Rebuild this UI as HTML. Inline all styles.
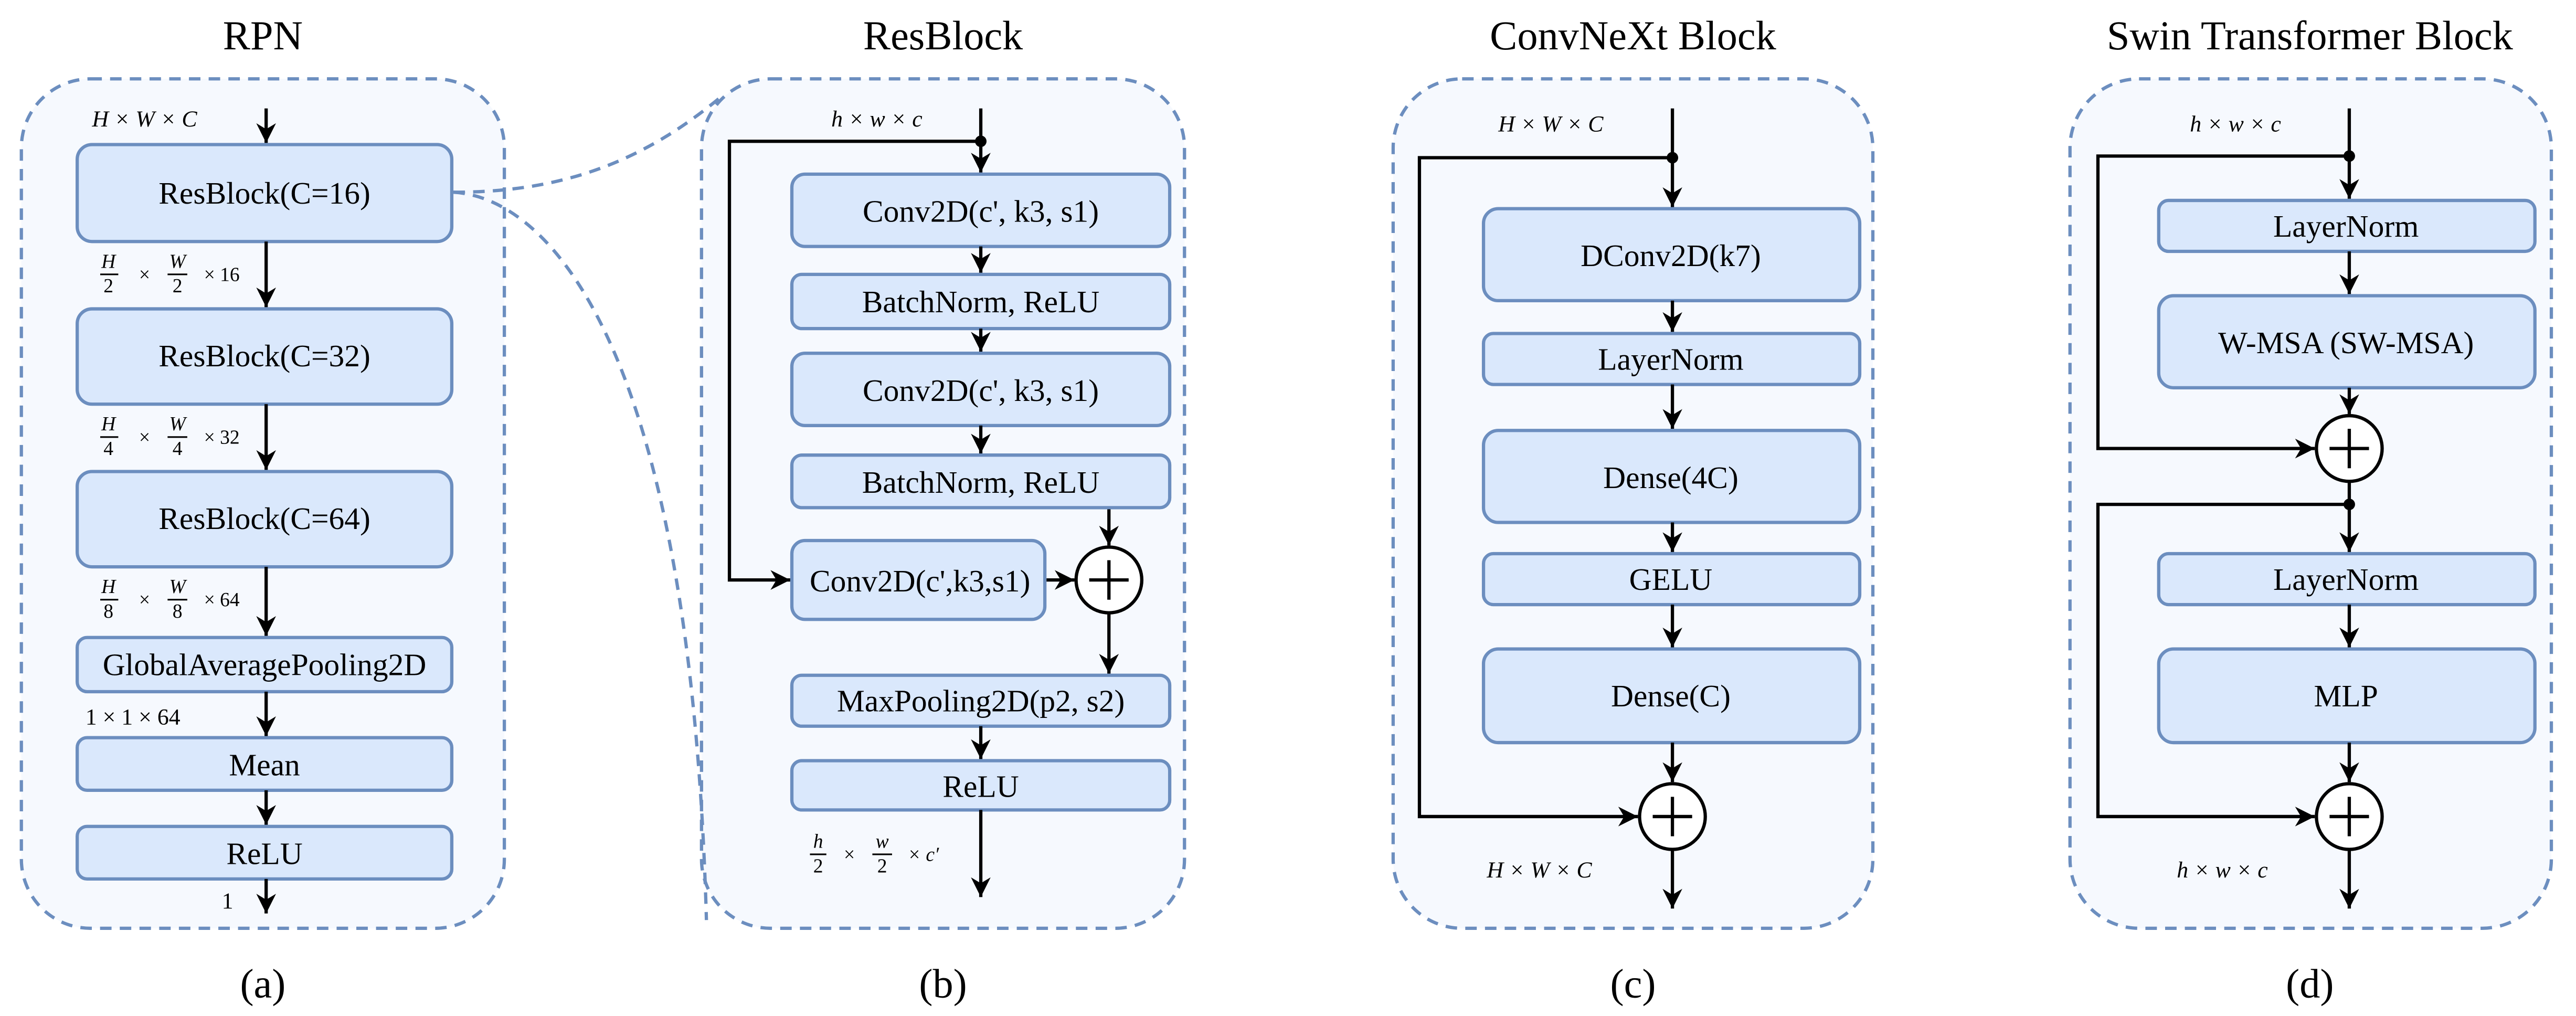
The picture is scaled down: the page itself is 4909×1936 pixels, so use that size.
<!DOCTYPE html>
<html><head><meta charset="utf-8"><style>
html,body{margin:0;padding:0;background:#fff;}
svg{display:block;font-family:"Liberation Serif","DejaVu Serif",serif;}
svg text{font-family:"Liberation Serif","DejaVu Serif",serif;fill:#000;}
.b{fill:#dae8fc;stroke:#6c8ebf;stroke-width:2;}
.p{fill:#f6f9fe;stroke:#6c8ebf;stroke-width:2;stroke-dasharray:7 5;}
.a{stroke:#000;stroke-width:2;fill:none;}
.t{font-size:19px;text-anchor:middle;}
.m{font-size:14px;font-style:italic;}
.h{font-size:25px;text-anchor:middle;}
.f{font-size:12px;font-style:italic;text-anchor:middle;}
</style></head><body>
<svg width="4909" height="1936" viewBox="0 0 1568 618.4" preserveAspectRatio="none" xmlns="http://www.w3.org/2000/svg" font-family="Liberation Serif, serif">
<defs><marker id="ar" viewBox="0 0 10 10" refX="10" refY="5" markerWidth="6" markerHeight="6" orient="auto-start-reverse"><path d="M0,0 L10,5 L0,10 L3,5 z" fill="#000"/></marker></defs>
<text class="h" x="160" y="30" font-family="Liberation Serif, serif">RPN</text>
<text class="h" x="574" y="30" font-family="Liberation Serif, serif">ResBlock</text>
<text class="h" x="994" y="30" font-family="Liberation Serif, serif">ConvNeXt Block</text>
<text class="h" x="1406" y="30" font-family="Liberation Serif, serif">Swin Transformer Block</text>
<text class="h" x="160" y="607" font-family="Liberation Serif, serif">(a)</text>
<text class="h" x="574" y="607" font-family="Liberation Serif, serif">(b)</text>
<text class="h" x="994" y="607" font-family="Liberation Serif, serif">(c)</text>
<text class="h" x="1406" y="607" font-family="Liberation Serif, serif">(d)</text>
<rect class="p" x="13" y="48" width="294" height="517" rx="42"/>
<rect class="p" x="427" y="48" width="294" height="517" rx="42"/>
<rect class="p" x="848" y="48" width="292" height="517" rx="42"/>
<rect class="p" x="1260" y="48" width="293" height="517" rx="42"/>
<path d="M276,117 C340,117 390,100 440,58" fill="none" stroke="#6c8ebf" stroke-width="2" stroke-dasharray="7 5"/>
<path d="M276,117 C330,120 420,200 430,560" fill="none" stroke="#6c8ebf" stroke-width="2" stroke-dasharray="7 5"/>
<g font-family="Liberation Serif, serif">
<!-- panel a -->
<text class="m" x="56" y="77">H × W × C</text>
<line class="a" x1="162" y1="66" x2="162" y2="87" marker-end="url(#ar)"/>
<rect class="b" x="47" y="88" width="228" height="59" rx="9"/><text class="t" x="161" y="124">ResBlock(C=16)</text>
<line class="a" x1="162" y1="147" x2="162" y2="187" marker-end="url(#ar)"/>
<text class="f" x="66" y="163">H</text><line x1="61" y1="167" x2="72" y2="167" stroke="#000"/><text class="f" x="66" y="178" style="font-style:normal">2</text>
<text class="f" x="88" y="171" style="font-style:normal">×</text>
<text class="f" x="108" y="163">W</text><line x1="102" y1="167" x2="114" y2="167" stroke="#000"/><text class="f" x="108" y="178" style="font-style:normal">2</text>
<text class="f" x="135" y="171" style="font-style:normal">× 16</text>
<rect class="b" x="47" y="188" width="228" height="58" rx="9"/><text class="t" x="161" y="223">ResBlock(C=32)</text>
<line class="a" x1="162" y1="246" x2="162" y2="286" marker-end="url(#ar)"/>
<text class="f" x="66" y="262">H</text><line x1="61" y1="266" x2="72" y2="266" stroke="#000"/><text class="f" x="66" y="277" style="font-style:normal">4</text>
<text class="f" x="88" y="270" style="font-style:normal">×</text>
<text class="f" x="108" y="262">W</text><line x1="102" y1="266" x2="114" y2="266" stroke="#000"/><text class="f" x="108" y="277" style="font-style:normal">4</text>
<text class="f" x="135" y="270" style="font-style:normal">× 32</text>
<rect class="b" x="47" y="287" width="228" height="58" rx="9"/><text class="t" x="161" y="322">ResBlock(C=64)</text>
<line class="a" x1="162" y1="345" x2="162" y2="387" marker-end="url(#ar)"/>
<text class="f" x="66" y="361">H</text><line x1="61" y1="365" x2="72" y2="365" stroke="#000"/><text class="f" x="66" y="376" style="font-style:normal">8</text>
<text class="f" x="88" y="369" style="font-style:normal">×</text>
<text class="f" x="108" y="361">W</text><line x1="102" y1="365" x2="114" y2="365" stroke="#000"/><text class="f" x="108" y="376" style="font-style:normal">8</text>
<text class="f" x="135" y="369" style="font-style:normal">× 64</text>
<rect class="b" x="47" y="388" width="228" height="33" rx="6"/><text class="t" x="161" y="411">GlobalAveragePooling2D</text>
<line class="a" x1="162" y1="421" x2="162" y2="448" marker-end="url(#ar)"/>
<text class="m" x="52" y="441" style="font-style:normal">1 × 1 × 64</text>
<rect class="b" x="47" y="449" width="228" height="32" rx="6"/><text class="t" x="161" y="472">Mean</text>
<line class="a" x1="162" y1="481" x2="162" y2="502" marker-end="url(#ar)"/>
<rect class="b" x="47" y="503" width="228" height="32" rx="6"/><text class="t" x="161" y="526">ReLU</text>
<line class="a" x1="162" y1="535" x2="162" y2="556" marker-end="url(#ar)"/>
<text class="m" x="135" y="553" style="font-style:normal">1</text>
<!-- panel b -->
<text class="m" x="506" y="77">h × w × c</text>
<line class="a" x1="597" y1="66" x2="597" y2="105" marker-end="url(#ar)"/>
<circle cx="597" cy="86" r="3.5" fill="#000"/>
<polyline class="a" points="597,86 444,86 444,353 481,353" marker-end="url(#ar)"/>
<rect class="b" x="482" y="106" width="230" height="44" rx="8"/><text class="t" x="597" y="135">Conv2D(c', k3, s1)</text>
<line class="a" x1="597" y1="150" x2="597" y2="166" marker-end="url(#ar)"/>
<rect class="b" x="482" y="167" width="230" height="33" rx="6"/><text class="t" x="597" y="190">BatchNorm, ReLU</text>
<line class="a" x1="597" y1="200" x2="597" y2="214" marker-end="url(#ar)"/>
<rect class="b" x="482" y="215" width="230" height="44" rx="8"/><text class="t" x="597" y="244">Conv2D(c', k3, s1)</text>
<line class="a" x1="597" y1="259" x2="597" y2="276" marker-end="url(#ar)"/>
<rect class="b" x="482" y="277" width="230" height="32" rx="6"/><text class="t" x="597" y="300">BatchNorm, ReLU</text>
<line class="a" x1="675" y1="310" x2="675" y2="332" marker-end="url(#ar)"/>
<rect class="b" x="482" y="329" width="154" height="48" rx="8"/><text class="t" x="560" y="360">Conv2D(c',k3,s1)</text>
<line class="a" x1="637" y1="353" x2="654" y2="353" marker-end="url(#ar)"/>
<circle cx="675" cy="353" r="20" fill="#fff" stroke="#000" stroke-width="2"/>
<path d="M663,353 H687 M675,341 V365" stroke="#000" stroke-width="2"/>
<line class="a" x1="675" y1="373" x2="675" y2="410" marker-end="url(#ar)"/>
<rect class="b" x="482" y="411" width="230" height="31" rx="6"/><text class="t" x="597" y="433">MaxPooling2D(p2, s2)</text>
<line class="a" x1="597" y1="442" x2="597" y2="462" marker-end="url(#ar)"/>
<rect class="b" x="482" y="463" width="230" height="30" rx="6"/><text class="t" x="597" y="485">ReLU</text>
<line class="a" x1="597" y1="493" x2="597" y2="546" marker-end="url(#ar)"/>
<text class="f" x="498" y="516">h</text><line x1="493" y1="520" x2="503" y2="520" stroke="#000"/><text class="f" x="498" y="531" style="font-style:normal">2</text>
<text class="f" x="517" y="524" style="font-style:normal">×</text>
<text class="f" x="537" y="516">w</text><line x1="531" y1="520" x2="543" y2="520" stroke="#000"/><text class="f" x="537" y="531" style="font-style:normal">2</text>
<text class="f" x="562" y="524">× c′</text>
<!-- panel c -->
<text class="m" x="912" y="80">H × W × C</text>
<line class="a" x1="1018" y1="66" x2="1018" y2="126" marker-end="url(#ar)"/>
<circle cx="1018" cy="96" r="3.5" fill="#000"/>
<polyline class="a" points="1018,96 864,96 864,497 997,497" marker-end="url(#ar)"/>
<rect class="b" x="903" y="127" width="229" height="56" rx="9"/><text class="t" x="1017" y="162">DConv2D(k7)</text>
<line class="a" x1="1018" y1="183" x2="1018" y2="202" marker-end="url(#ar)"/>
<rect class="b" x="903" y="203" width="229" height="31" rx="6"/><text class="t" x="1017" y="225">LayerNorm</text>
<line class="a" x1="1018" y1="234" x2="1018" y2="261" marker-end="url(#ar)"/>
<rect class="b" x="903" y="262" width="229" height="56" rx="9"/><text class="t" x="1017" y="297">Dense(4C)</text>
<line class="a" x1="1018" y1="318" x2="1018" y2="336" marker-end="url(#ar)"/>
<rect class="b" x="903" y="337" width="229" height="31" rx="6"/><text class="t" x="1017" y="359">GELU</text>
<line class="a" x1="1018" y1="368" x2="1018" y2="394" marker-end="url(#ar)"/>
<rect class="b" x="903" y="395" width="229" height="57" rx="9"/><text class="t" x="1017" y="430">Dense(C)</text>
<line class="a" x1="1018" y1="452" x2="1018" y2="476" marker-end="url(#ar)"/>
<circle cx="1018" cy="497" r="20" fill="#fff" stroke="#000" stroke-width="2"/>
<path d="M1006,497 H1030 M1018,485 V509" stroke="#000" stroke-width="2"/>
<line class="a" x1="1018" y1="517" x2="1018" y2="553" marker-end="url(#ar)"/>
<text class="m" x="905" y="534">H × W × C</text>
<!-- panel d -->
<text class="m" x="1333" y="80">h × w × c</text>
<line class="a" x1="1430" y1="66" x2="1430" y2="121" marker-end="url(#ar)"/>
<circle cx="1430" cy="95" r="3.5" fill="#000"/>
<polyline class="a" points="1430,95 1277,95 1277,273 1409,273" marker-end="url(#ar)"/>
<rect class="b" x="1314" y="122" width="229" height="31" rx="6"/><text class="t" x="1428" y="144">LayerNorm</text>
<line class="a" x1="1430" y1="153" x2="1430" y2="179" marker-end="url(#ar)"/>
<rect class="b" x="1314" y="180" width="229" height="56" rx="9"/><text class="t" x="1428" y="215">W-MSA (SW-MSA)</text>
<line class="a" x1="1430" y1="236" x2="1430" y2="252" marker-end="url(#ar)"/>
<circle cx="1430" cy="273" r="20" fill="#fff" stroke="#000" stroke-width="2"/>
<path d="M1418,273 H1442 M1430,261 V285" stroke="#000" stroke-width="2"/>
<line class="a" x1="1430" y1="293" x2="1430" y2="336" marker-end="url(#ar)"/>
<circle cx="1430" cy="307" r="3.5" fill="#000"/>
<polyline class="a" points="1430,307 1277,307 1277,497 1409,497" marker-end="url(#ar)"/>
<rect class="b" x="1314" y="337" width="229" height="31" rx="6"/><text class="t" x="1428" y="359">LayerNorm</text>
<line class="a" x1="1430" y1="368" x2="1430" y2="394" marker-end="url(#ar)"/>
<rect class="b" x="1314" y="395" width="229" height="57" rx="9"/><text class="t" x="1428" y="430">MLP</text>
<line class="a" x1="1430" y1="452" x2="1430" y2="476" marker-end="url(#ar)"/>
<circle cx="1430" cy="497" r="20" fill="#fff" stroke="#000" stroke-width="2"/>
<path d="M1418,497 H1442 M1430,485 V509" stroke="#000" stroke-width="2"/>
<line class="a" x1="1430" y1="517" x2="1430" y2="553" marker-end="url(#ar)"/>
<text class="m" x="1325" y="534">h × w × c</text>
</g>
</svg>
</body></html>
